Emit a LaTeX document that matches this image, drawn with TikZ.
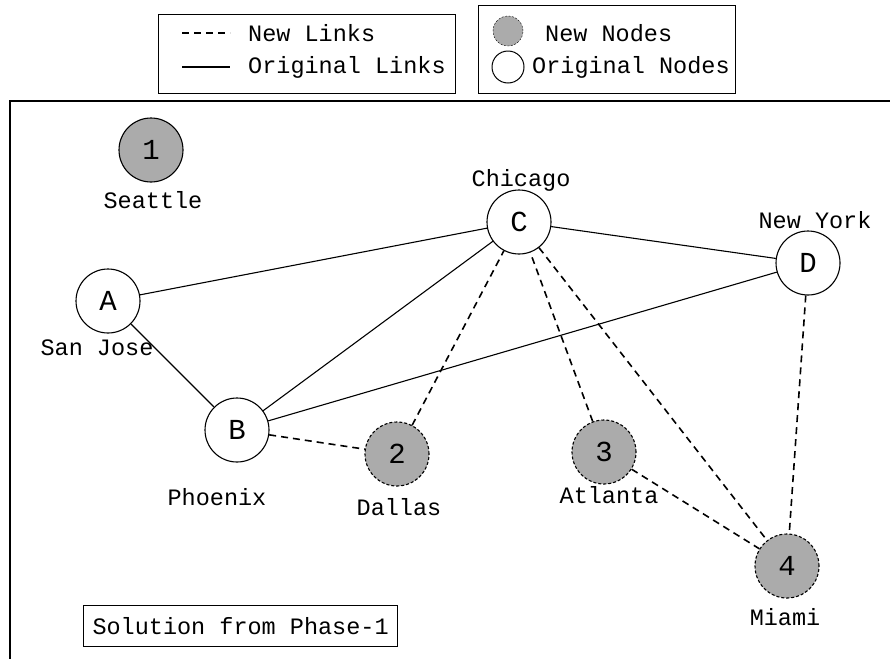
\documentclass[tikz,border=0pt]{standalone}
\usepackage{fontspec}
\newfontfamily\cour{Liberation Mono}
\tikzset{
  city/.style={circle, draw, line width=1.1pt, minimum size=64pt, inner sep=0pt,
    fill=white, font=\cour\fontsize{29}{29}\selectfont},
  newcity/.style={city, fill=black!33, dash pattern=on 3pt off 2pt},
  seedcity/.style={city, fill=black!33},
  oldlink/.style={line width=1.1pt},
  newlink/.style={line width=1.6pt, dash pattern=on 7pt off 5pt},
  lbl/.style={font=\cour\fontsize{23.5}{23.5}\selectfont, inner sep=0pt},
  legbox/.style={draw, line width=1pt},
}
\begin{document}
\begin{tikzpicture}[x=1pt, y=-1pt]
\useasboundingbox (0,0) rectangle (890,659);

% legend: link styles
\draw[legbox] (158,14) rectangle (455,93);
\coordinate (dl0) at (182,33); \coordinate (dl1) at (230,33);
\coordinate (sl0) at (182,67); \coordinate (sl1) at (230,67);
\draw[line width=1.3pt, dash pattern=on 7pt off 5pt] (dl0) -- (dl1);
\draw[oldlink] (sl0) -- (sl1);
\node[lbl, anchor=west] (tNewL) at (248,33) {New Links};
\node[lbl, anchor=west] (tOrigL) at (248,67) {Original Links};

% legend: node styles
\node[circle, draw, fill=black!33, dash pattern=on 2pt off 1.5pt, minimum size=30pt, inner sep=0pt] (gN) at (508,31) {};
\node[circle, draw, line width=1pt, minimum size=32pt, inner sep=0pt] (gO) at (508,67) {};
\node[lbl, anchor=west] (tNewN) at (545,33) {New Nodes};
\node[lbl, anchor=west] (tOrigN) at (532,67) {Original Nodes};
\draw[legbox] (478,5) rectangle ([xshift=6pt]tOrigN.east |- 0,93);

% frame of the map
\draw[line width=1.6pt] (890,101) -- (10,101) -- (10,659);

% cities
\node[seedcity] (n1) at (151,150) {1};
\node[city] (A) at (108,301) {A};
\node[city] (B) at (237,430) {B};
\node[city] (C) at (519,222) {C};
\node[city] (D) at (808,263) {D};
\node[newcity] (n2) at (397,454) {2};
\node[newcity] (n3) at (604,452) {3};
\node[newcity] (n4) at (787,566) {4};

% city names
\node[lbl] (lSea) at (153,200) {Seattle};
\node[lbl] (lSJ) at (97,348) {San Jose};
\node[lbl] (lPhx) at (217,497) {Phoenix};
\node[lbl] (lChi) at (521,180) {Chicago};
\node[lbl] (lNY) at (815,220) {New York};
\node[lbl] (lDal) at (399,507) {Dallas};
\node[lbl] (lAtl) at (609,495) {Atlanta};
\node[lbl] (lMia) at (785,617) {Miami};

% original links
\draw[oldlink] (A) -- (C);
\draw[oldlink] (A) -- (B);
\draw[oldlink] (B) -- (C);
\draw[oldlink] (B) -- (D);
\draw[oldlink] (C) -- (D);

% new links
\draw[newlink] (B) -- (n2);
\draw[newlink] (n2) -- (C);
\draw[newlink] (n3) -- (C);
\draw[newlink] (C) -- (n4);
\draw[newlink] (D) -- (n4);
\draw[newlink] (n3) -- (n4);

% caption box
\node[lbl, draw, line width=1pt, inner xsep=9pt, inner ysep=12pt, anchor=west] (cap) at (83,626) {Solution from Phase-1};
\end{tikzpicture}
\end{document}
